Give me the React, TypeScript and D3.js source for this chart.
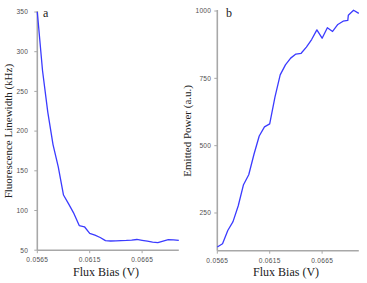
import React from "react";
import * as d3 from "d3";

const fluxBias = [
  0.0565, 0.057, 0.0575, 0.058, 0.0585, 0.059, 0.0595, 0.06, 0.0605, 0.061,
  0.0615, 0.062, 0.0625, 0.063, 0.0635, 0.064, 0.0645, 0.065, 0.0655, 0.066,
  0.0665, 0.067, 0.0675, 0.068, 0.0685, 0.069, 0.0695, 0.07,
];
const linewidth = [
  350, 276, 224, 183, 155, 119.5, 108, 96, 81, 79.5, 71.3, 69, 66, 62, 61.6,
  61.7, 62, 62.3, 62.8, 63.5, 62.5, 61.5, 60.3, 59.5, 61.5, 63.3, 63, 62.3,
];
const powerBias = [
  0.0565, 0.057, 0.0575, 0.058, 0.0585, 0.059, 0.0595, 0.06, 0.0605, 0.061,
  0.0615, 0.062, 0.0625, 0.063, 0.0635, 0.064, 0.0645, 0.065, 0.0655, 0.066,
  0.0665, 0.067, 0.0675, 0.068, 0.0685, 0.06895, 0.069, 0.0695, 0.07,
];
const emittedPower = [
  124, 136, 185, 218, 277, 355, 392, 468, 536, 570, 581, 680, 763, 800, 825,
  840, 843, 866, 894, 930, 899, 938, 924, 950, 962, 965, 984, 1003, 991,
];
const xTicks = [0.0565, 0.0615, 0.0665];
const xTickLabels = ["0.0565", "0.0615", "0.0665"];
const leftYTicks = [50, 100, 150, 200, 250, 300, 350];
const rightYTicks = [250, 500, 750, 1000];

const AXIS = "#a8a8a8";
const TICKTEXT = "#505050";
const LINE = "#3b3bff";
const SERIF = "'Liberation Serif', 'DejaVu Serif', serif";
const SANS = "'Liberation Sans', Arial, sans-serif";

type PanelProps = {
  x0: number;
  x1: number;
  yTop: number;
  yBottom: number;
  yDomain: [number, number];
  yTicks: number[];
  xs: number[];
  ys: number[];
  yTitle: string;
  yTitleX: number;
  letter: string;
  letterX: number;
  labelGap: number;
};

function Panel(p: PanelProps) {
  const x = d3.scaleLinear().domain([0.0565, 0.07]).range([p.x0, p.x1]);
  const y = d3.scaleLinear().domain(p.yDomain).range([p.yBottom, p.yTop]);
  const line = d3
    .line<number>()
    .x((_, i) => x(p.xs[i]))
    .y((d) => y(d));
  const axisY = y(p.yDomain[0]);
  const midY = (p.yTop + p.yBottom) / 2;
  return (
    <g>
      {/* y axis */}
      <line x1={p.x0} x2={p.x0} y1={p.yTop - 1} y2={axisY} stroke={AXIS} strokeWidth={1.6} />
      {p.yTicks.map((t) => (
        <g key={t}>
          <line x1={p.x0 - 3} x2={p.x0} y1={y(t)} y2={y(t)} stroke={AXIS} strokeWidth={1} />
          <text
            x={p.x0 - p.labelGap}
            y={y(t)}
            dy="0.35em"
            textAnchor="end"
            fontFamily={SANS}
            fontSize={6.6}
            fill={TICKTEXT}
            letterSpacing={0.3}
          >
            {t}
          </text>
        </g>
      ))}
      {/* x axis */}
      <line x1={p.x0} x2={p.x1} y1={axisY} y2={axisY} stroke={AXIS} strokeWidth={1.6} />
      {xTicks.map((t, i) => (
        <g key={t}>
          <line x1={x(t)} x2={x(t)} y1={axisY} y2={axisY + 3} stroke={AXIS} strokeWidth={1} />
          <text
            x={x(t)}
            y={axisY + 12}
            textAnchor="middle"
            fontFamily={SANS}
            fontSize={6.6}
            fill={TICKTEXT}
            letterSpacing={0.3}
          >
            {xTickLabels[i]}
          </text>
        </g>
      ))}
      <text
        x={(p.x0 + p.x1) / 2 - 2}
        y={276}
        textAnchor="middle"
        fontFamily={SERIF}
        fontSize={12}
        fill="#222"
      >
        Flux Bias (V)
      </text>
      <text
        transform={`translate(${p.yTitleX},${midY}) rotate(-90)`}
        textAnchor="middle"
        fontFamily={SERIF}
        fontSize={11}
        fill="#222"
      >
        {p.yTitle}
      </text>
      <text x={p.letterX} y={17} fontFamily={SERIF} fontSize={12} fill="#222">
        {p.letter}
      </text>
      <path d={line(p.ys) || ""} fill="none" stroke={LINE} strokeWidth={1.3} strokeLinejoin="round" />
    </g>
  );
}

export default function App() {
  return (
    <svg
      width={367}
      height={283}
      style={{ position: "absolute", left: 0, top: 0, background: "#fff" }}
    >
      <Panel
        x0={37.3}
        x1={178.8}
        yTop={12}
        yBottom={250.2}
        yDomain={[50, 350]}
        yTicks={leftYTicks}
        xs={fluxBias}
        ys={linewidth}
        yTitle="Fluorescence Linewidth (kHz)"
        yTitleX={12}
        letter="a"
        letterX={43}
        labelGap={9}
      />
      <Panel
        x0={217.3}
        x1={358.8}
        yTop={11}
        yBottom={250.7}
        yDomain={[110, 1000]}
        yTicks={rightYTicks}
        xs={powerBias}
        ys={emittedPower}
        yTitle="Emitted Power (a.u.)"
        yTitleX={191}
        letter="b"
        letterX={226}
        labelGap={6}
      />
    </svg>
  );
}
